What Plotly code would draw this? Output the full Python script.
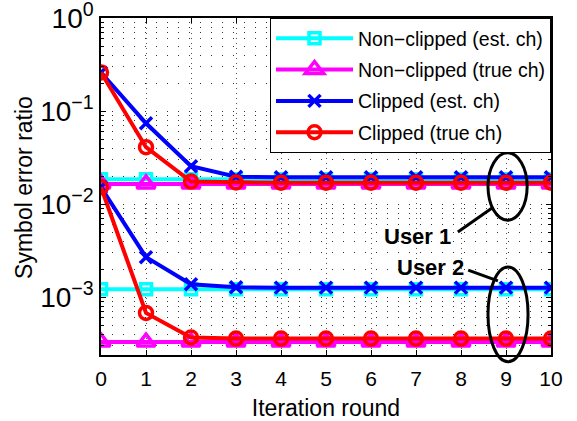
import plotly.graph_objects as go

iters = list(range(11))

nonclip_est_u1 = [0.0185] * 11
nonclip_true_u1 = [0.0165] * 11
clip_est_u1 = [0.26, 0.074, 0.0256, 0.0197, 0.0195, 0.0195, 0.0195, 0.0195, 0.0195, 0.0195, 0.0195]
clip_true_u1 = [0.26, 0.041, 0.0175, 0.0171, 0.017, 0.017, 0.017, 0.017, 0.017, 0.017, 0.017]

nonclip_est_u2 = [0.00122] * 11
nonclip_true_u2 = [0.00033] * 11
clip_est_u2 = [0.0152, 0.0027, 0.00138, 0.00128, 0.00127, 0.00127, 0.00127, 0.00127, 0.00127, 0.00127, 0.00127]
clip_true_u2 = [0.0152, 0.00068, 0.00037, 0.00036, 0.00036, 0.00036, 0.00036, 0.00036, 0.00036, 0.00036, 0.00036]

series = [
    ("Non\u2212clipped (est. ch)", "#00FFFF", "square-open", 11, nonclip_est_u1, nonclip_est_u2),
    ("Non\u2212clipped (true ch)", "#FF00FF", "triangle-up-open", 16, nonclip_true_u1, nonclip_true_u2),
    ("Clipped (est. ch)", "#0000FF", "x-thin", 12, clip_est_u1, clip_est_u2),
    ("Clipped (true ch)", "#FF0000", "circle-open", 13, clip_true_u1, clip_true_u2),
]

ytick_vals = [1e-3, 1e-2, 1e-1, 1]
ytick_text = ["10<sup>\u22123</sup>", "10<sup>\u22122</sup>", "10<sup>\u22121</sup>", "10<sup>0</sup>"]

fig = go.Figure()
for name, color, sym, size, u1, u2 in series:
    for k, ys in enumerate((u1, u2)):
        fig.add_trace(go.Scatter(
            x=iters, y=ys, mode="lines+markers", name=name,
            legendgroup=name, showlegend=(k == 0),
            line=dict(color=color, width=4),
            marker=dict(symbol=sym, size=size, color=color,
                        line=dict(color=color, width=3.5)),
        ))

font = "Liberation Sans, Arial, sans-serif"
fig.update_layout(
    width=577, height=421,
    margin=dict(l=101, r=26, t=18, b=66, autoexpand=False),
    plot_bgcolor="white", paper_bgcolor="white",
    font=dict(family=font, color="black"),
    showlegend=True,
    legend=dict(x=1, xanchor="right", y=1, yanchor="top",
                bgcolor="white", bordercolor="black", borderwidth=1,
                font=dict(size=19.5, family=font), itemwidth=77,
                tracegroupgap=3),
    xaxis=dict(
        range=[0, 10], tickmode="array", tickvals=iters,
        ticks="inside", ticklen=5, tickcolor="black",
        showline=True, linecolor="black", linewidth=1.5, mirror="ticks",
        showgrid=True, gridcolor="#555555", griddash="1px,4px", gridwidth=1,
        zeroline=False, tickfont=dict(size=21), automargin=False,
        ticklabelstandoff=4, ticklabeloverflow="allow",
        title=dict(text="Iteration round", font=dict(size=23), standoff=12),
    ),
    yaxis=dict(
        type="log", range=[-3.62, 0.0005],
        tickmode="array", tickvals=ytick_vals, ticktext=ytick_text,
        ticks="inside", ticklen=5, tickcolor="black",
        showline=True, linecolor="black", linewidth=1.5, mirror="ticks",
        showgrid=True, gridcolor="#333333", griddash="1px,10px", gridwidth=1,
        zeroline=False, tickfont=dict(size=28), automargin=False,
        ticklabeloverflow="allow",
        minor=dict(ticks="inside", ticklen=3, tickcolor="black", dtick="D1",
                   showgrid=True, gridcolor="#333333", griddash="1px,10px", gridwidth=1),
    ),
)

# y-axis title placed as a rotated annotation
fig.add_annotation(x=-0.171, y=0.496, xref="paper", yref="paper", text="Symbol error ratio",
                   textangle=-90, xanchor="center", yanchor="middle", showarrow=False,
                   font=dict(size=23, family=font, color="black"))

# annotation ellipses and labels
fig.add_shape(type="circle", xref="x", yref="paper", x0=8.6, x1=9.47, y0=0.40, y1=0.60,
              line=dict(color="black", width=3))
fig.add_shape(type="circle", xref="x", yref="paper", x0=8.6, x1=9.49, y0=-0.02, y1=0.261,
              line=dict(color="black", width=3))
fig.add_shape(type="line", xref="x", yref="paper", x0=7.93, y0=0.365, x1=8.69, y1=0.436,
              line=dict(color="black", width=3))
fig.add_shape(type="line", xref="x", yref="paper", x0=8.16, y0=0.252, x1=8.82, y1=0.220,
              line=dict(color="black", width=3))
fig.add_annotation(x=7.04, y=0.353, xref="x", yref="paper", text="<b>User 1</b>",
                   xanchor="center", yanchor="middle",
                   showarrow=False, font=dict(size=22, family=font, color="black"))
fig.add_annotation(x=7.33, y=0.261, xref="x", yref="paper", text="<b>User 2</b>",
                   xanchor="center", yanchor="middle",
                   showarrow=False, font=dict(size=22, family=font, color="black"))

fig.write_html("out.html", config={"displayModeBar": False},
               post_script="document.body.style.margin='0';document.body.style.padding='0';")
